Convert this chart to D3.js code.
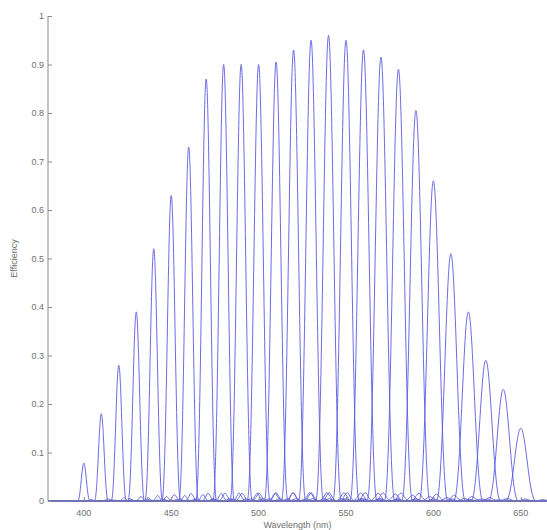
<!DOCTYPE html>
<html>
<head>
<meta charset="utf-8">
<script src="https://cdn.jsdelivr.net/npm/d3@7/dist/d3.min.js"></script>
<style>
    html, body { margin: 0; padding: 0; background: #fff; }
    svg { display: block; font-family: "Liberation Sans", Arial, sans-serif; }
</style>
</head>
<body>
<svg id="chart" width="547" height="530"></svg>
<script>
// peak centre wavelengths (nm) and their efficiencies
const peakWavelengths = [400, 410, 420, 430, 440, 450, 460, 470, 480, 490, 500, 510, 520,
    530, 540, 550, 560, 570, 580, 590, 600, 610, 620, 630, 640, 650];
const peakEfficiency = [0.078, 0.18, 0.28, 0.39, 0.52, 0.63, 0.73, 0.87, 0.90, 0.90, 0.90, 0.905, 0.93,
    0.95, 0.96, 0.95, 0.93, 0.915, 0.89, 0.805, 0.66, 0.51, 0.39, 0.29, 0.23, 0.15];
// distance from centre to the first zero of each peak (nm)
const peakHalfWidth = [3.6, 4.0, 4.4, 4.8, 5.1, 5.4, 5.7, 6.0, 6.2, 6.4, 6.6, 6.8, 7.0,
    7.2, 7.4, 7.6, 7.8, 8.0, 8.1, 8.2, 8.3, 8.4, 8.5, 8.6, 8.7, 8.8];
// shape of one normalised peak: offset in half-widths, relative level
const profileOffset = [0, 0.1, 0.2, 0.3, 0.4, 0.5, 0.6, 0.7, 0.8, 0.9, 1.0, 1.2, 1.45, 1.7, 2.0, 2.5, 3.0];
const profileLevel = [1, 0.968, 0.875, 0.737, 0.573, 0.405, 0.255, 0.137, 0.055, 0.012, 0, 0.010, 0.018, 0.008, 0, 0.005, 0];

const xTicks = [400, 450, 500, 550, 600, 650];
const yTicks = [0, 0.1, 0.2, 0.3, 0.4, 0.5, 0.6, 0.7, 0.8, 0.9, 1];
const xDomain = [379.5, 665];

const svg = d3.select('#chart');
const plotLeft = 48, plotRight = 547, plotTop = 16, plotBottom = 501;
const axisColor = '#8a8a8a';
const textColor = '#6f6f6f';
const lineColor = '#5a5ae0';

const x = d3.scaleLinear().domain(xDomain).range([plotLeft, plotRight]);
const y = d3.scaleLinear().domain([0, 1]).range([plotBottom, plotTop]);

svg.append('defs').append('clipPath').attr('id', 'plot')
    .append('rect').attr('x', plotLeft).attr('y', plotTop - 5)
    .attr('width', plotRight - plotLeft).attr('height', plotBottom - plotTop + 6);

function peakPoints(i) {
    const pts = [[xDomain[0], 0]];
    const c = peakWavelengths[i], w = peakHalfWidth[i], h = peakEfficiency[i];
    for (let k = profileOffset.length - 1; k > 0; k--) {
        pts.push([c - profileOffset[k] * w, profileLevel[k] * h]);
    }
    profileOffset.forEach((o, k) => pts.push([c + o * w, profileLevel[k] * h]));
    pts.push([xDomain[1], 0]);
    return pts;
}

const line = d3.line()
    .x((d) => x(d[0]))
    .y((d) => y(d[1]))
    .curve(d3.curveMonotoneX);

svg.append('g').attr('clip-path', 'url(#plot)')
    .selectAll('path')
    .data(peakWavelengths.map((_, i) => peakPoints(i)))
    .join('path')
    .attr('d', line)
    .attr('fill', 'none')
    .attr('stroke', lineColor)
    .attr('stroke-width', 0.9);

// axes (MATLAB style, ticks pointing inward)
const xAxis = svg.append('g')
    .attr('transform', `translate(0,${plotBottom})`)
    .call(d3.axisTop(x).tickValues(xTicks).tickSize(4).tickFormat(''));
xAxis.select('.domain').attr('stroke', axisColor).attr('d', `M${plotLeft},0H${plotRight}`);
xAxis.selectAll('line').attr('stroke', axisColor);

svg.append('g').selectAll('text')
    .data(xTicks)
    .join('text')
    .attr('x', (d) => x(d))
    .attr('y', plotBottom + 15)
    .attr('text-anchor', 'middle')
    .attr('font-size', 9)
    .attr('fill', textColor)
    .text((d) => d);

const yAxis = svg.append('g')
    .attr('transform', `translate(${plotLeft},0)`)
    .call(d3.axisRight(y).tickValues(yTicks).tickSize(4).tickFormat(''));
yAxis.select('.domain').attr('stroke', axisColor).attr('d', `M0,${plotTop}V${plotBottom}`);
yAxis.selectAll('line').attr('stroke', axisColor);

svg.append('g').selectAll('text')
    .data(yTicks)
    .join('text')
    .attr('x', plotLeft - 4)
    .attr('y', (d) => y(d))
    .attr('dy', '0.35em')
    .attr('text-anchor', 'end')
    .attr('font-size', 9)
    .attr('fill', textColor)
    .text((d) => d);

svg.append('text')
    .attr('transform', `translate(17,${(plotTop + plotBottom) / 2}) rotate(-90)`)
    .attr('text-anchor', 'middle')
    .attr('font-size', 9)
    .attr('fill', textColor)
    .text('Efficiency');

svg.append('text')
    .attr('x', (plotLeft + plotRight) / 2)
    .attr('y', 528)
    .attr('text-anchor', 'middle')
    .attr('font-size', 9)
    .attr('fill', textColor)
    .text('Wavelength (nm)');
</script>
</body>
</html>
